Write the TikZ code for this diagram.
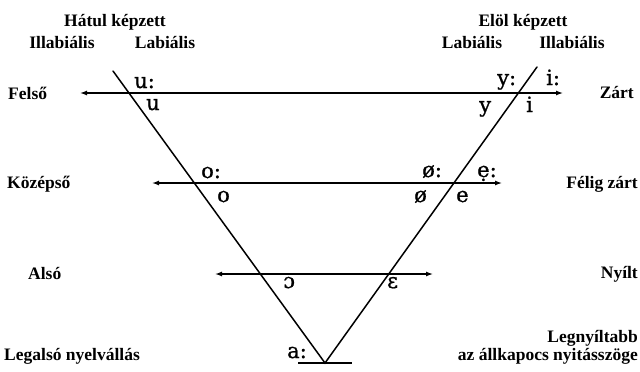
\documentclass[tikz,border=0pt]{standalone}
\usepackage{fontspec}
\setmainfont{Liberation Serif}
\newfontfamily\vowfont[FakeBold=1]{DejaVu Serif}
\usetikzlibrary{arrows.meta}
\begin{document}
\begin{tikzpicture}[x=1pt,y=-1pt,
  lbl/.style={font=\fontsize{17.5}{19}\selectfont\bfseries, inner sep=0pt},
  vow/.style={font=\vowfont\fontsize{21}{23}\selectfont, inner sep=0pt, anchor=base west},
  edge/.style={line width=1.5pt, line cap=round},
  axis/.style={line width=1.3pt, {Latex[length=7pt,width=5pt]}-{Latex[length=7pt,width=5pt]}}]
\useasboundingbox[fill=white] (0,0) rectangle (640,372);
% triangle
\coordinate (Ltop) at (113,71);
\coordinate (Rtop) at (537,67);
\coordinate (V) at (325,363);
\coordinate (B1) at (298,363);
\coordinate (B2) at (352,363);
\draw[edge] (Ltop) -- (V) -- (Rtop);
\draw[line width=1.3pt] (B1) -- (B2);
% axes
\coordinate (F1) at (80,93);  \coordinate (F2) at (563,93);
\coordinate (K1) at (152,183); \coordinate (K2) at (502,183);
\coordinate (A1) at (215,274); \coordinate (A2) at (433,274);
\draw[axis] (F1) -- (F2);
\draw[axis] (K1) -- (K2);
\draw[axis] (A1) -- (A2);
% headings
\node[lbl] (hk) at (115,22) {Hátul képzett};
\node[lbl] (hil) at (62,43) {Illabiális};
\node[lbl] (hla) at (165,43) {Labiális};
\node[lbl] (ek) at (523,22) {Elöl képzett};
\node[lbl] (ela) at (472,43) {Labiális};
\node[lbl] (eil) at (572,43) {Illabiális};
% left labels
\node[lbl, anchor=west] (felso) at (8,93) {Felső};
\node[lbl, anchor=west] (kozep) at (7,184) {Középső};
\node[lbl, anchor=west] (also) at (28,274) {Alsó};
\node[lbl, anchor=west] (legalso) at (4,356) {Legalsó nyelvállás};
% right labels
\node[lbl, anchor=east] (zart) at (634,93) {Zárt};
\node[lbl, anchor=east] (felig) at (638,184) {Félig zárt};
\node[lbl, anchor=east] (nyilt) at (638,274) {Nyílt};
\node[lbl, anchor=east] (legny) at (638,338) {Legnyíltabb};
\node[lbl, anchor=east] (allk) at (638,356) {az állkapocs nyitásszöge};
% vowels
\node[vow] (uu) at (134,88) {u:};
\node[vow] (u) at (146,110) {u};
\node[vow] (yy) at (497,85) {y:};
\node[vow] (ii) at (546,85) {i:};
\node[vow] (y) at (479,112) {y};
\node[vow] (i) at (526,112) {i};
\node[vow] (oo) at (201,178) {o:};
\node[vow] (o) at (217,202) {o};
\node[vow] (oeoe) at (422,177) {ø:};
\node[vow] (ee) at (477,177) {ẹ:};
\node[vow] (oe) at (414,202) {ø};
\node[vow] (e) at (456,202) {e};
\node[vow] (oo2) at (283,288) {ɔ};
\node[vow] (eps) at (387,288) {ɛ};
\node[vow] (aa) at (287,358) {a:};
\end{tikzpicture}
\end{document}
